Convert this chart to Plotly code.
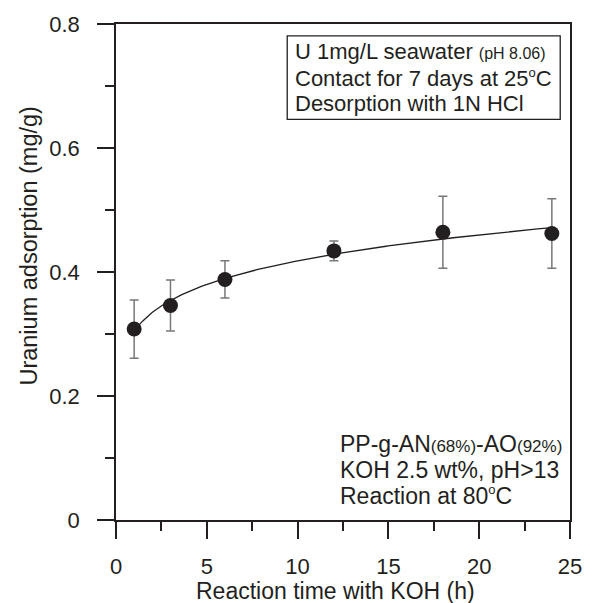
import numpy as np
import plotly.graph_objects as go

# Uranium adsorption vs. KOH treatment time
reaction_time_h = [1, 3, 6, 12, 18, 24]
adsorption_mg_g = [0.308, 0.346, 0.388, 0.434, 0.464, 0.462]
adsorption_err = [0.047, 0.041, 0.030, 0.016, 0.058, 0.056]

x_ticks = [0, 5, 10, 15, 20, 25]
y_ticks = [0, 0.2, 0.4, 0.6, 0.8]
y_tick_text = ["0", "0.2", "0.4", "0.6", "0.8"]

INK = "#231f20"
FONT = "Liberation Sans, Arial, sans-serif"

# plot-area geometry in pixels (used to place paper-referenced labels)
L, R, T, B = 116, 580, 21, 520
W, H = R - L, B - T


def px(xp):
    return (xp - L) / W


def py(yp):
    return (B - yp) / H


# power-law trend y = a * x^b fitted in log space
b, ln_a = np.polyfit(np.log(reaction_time_h), np.log(adsorption_mg_g), 1)
fit_x = np.linspace(min(reaction_time_h), max(reaction_time_h), 200)
fit_y = np.exp(ln_a) * fit_x ** b

fig = go.Figure()
fig.add_trace(go.Scatter(
    x=fit_x, y=fit_y, mode="lines",
    line=dict(color=INK, width=1.3), hoverinfo="skip", showlegend=False,
))
fig.add_trace(go.Scatter(
    x=reaction_time_h, y=adsorption_mg_g, mode="markers",
    marker=dict(size=15, color=INK),
    error_y=dict(type="data", array=adsorption_err, color="#77787b",
                 thickness=1.5, width=4.5),
    showlegend=False,
))

axis_common = dict(
    showgrid=False, zeroline=False, showline=True, linecolor=INK, linewidth=1.5,
    mirror=True, ticks="outside", ticklen=17, tickwidth=1.5, tickcolor=INK,
    tickfont=dict(family=FONT, size=22, color=INK),
)
fig.update_xaxes(
    range=[0, 25], tickvals=x_ticks,
    minor=dict(dtick=2.5, ticks="outside", ticklen=9, tickwidth=1.5, tickcolor=INK),
    ticklabelstandoff=9,
    **axis_common,
)
fig.update_yaxes(
    range=[0, 0.8], tickvals=y_ticks, ticktext=y_tick_text,
    minor=dict(dtick=0.1, ticks="outside", ticklen=9, tickwidth=1.5, tickcolor=INK),
    ticklabelstandoff=13,
    **axis_common,
)

# axis titles
fig.add_annotation(xref="paper", yref="paper", x=px(196), y=py(591),
                   text="Reaction time with KOH (h)", showarrow=False,
                   xanchor="left", yanchor="middle",
                   font=dict(family=FONT, size=23, color=INK))
fig.add_annotation(xref="paper", yref="paper", x=px(27), y=py(244),
                   text="Uranium adsorption (mg/g)", showarrow=False, textangle=-90,
                   xanchor="center", yanchor="middle",
                   font=dict(family=FONT, size=23.5, color=INK))

SMALL = '<span style="font-size:16px">{}</span>'
DEG = '<sup><span style="font-size:13px">o</span></sup>'

# condition box, upper right
fig.add_shape(type="rect", xref="paper", yref="paper",
              x0=px(291), x1=px(570), y0=py(117), y1=py(33),
              line=dict(color=INK, width=1.3))

top_lines = [
    "U 1mg/L seawater " + SMALL.format("(pH 8.06)"),
    "Contact for 7 days at 25" + DEG + "C",
    "Desorption with 1N HCl",
]
for i, txt in enumerate(top_lines):
    fig.add_annotation(xref="paper", yref="paper", x=px(297),
                       y=py(49 + 26 * i), text=txt, showarrow=False,
                       xanchor="left", yanchor="middle",
                       font=dict(family=FONT, size=22, color=INK))

SMALL_B = '<span style="font-size:17px">{}</span>'
bottom_lines = [
    "PP-g-AN" + SMALL_B.format("(68%)") + "-AO" + SMALL_B.format("(92%)"),
    "KOH 2.5 wt%, pH>13",
    "Reaction at 80" + DEG + "C",
]
for i, txt in enumerate(bottom_lines):
    fig.add_annotation(xref="paper", yref="paper", x=px(343),
                       y=py(444 + 25.5 * i), text=txt, showarrow=False,
                       xanchor="left", yanchor="middle",
                       font=dict(family=FONT, size=23, color=INK))

fig.update_layout(
    width=594, height=603,
    margin=dict(l=L, r=594 - R, t=T, b=603 - B),
    paper_bgcolor="white", plot_bgcolor="white",
    font=dict(family=FONT, color=INK),
)

fig.write_html("out.html")
